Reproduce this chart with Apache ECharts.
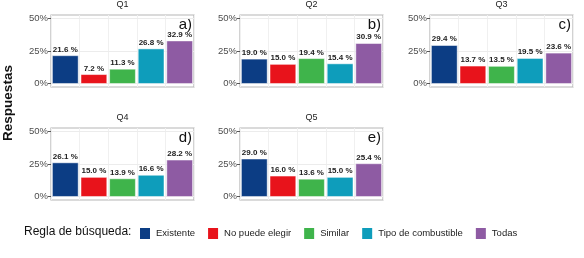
<!DOCTYPE html>
<html>
<head>
<meta charset="utf-8">
<script src="https://cdn.jsdelivr.net/npm/echarts@6/dist/echarts.min.js"></script>
<style>
  html, body { margin: 0; padding: 0; background: #fff; }
  #chart { width: 584px; height: 258px; }
</style>
</head>
<body>
<div id="chart"></div>
<script>
var reglas = ['Existente', 'No puede elegir', 'Similar', 'Tipo de combustible', 'Todas'];
var colores = ['#0c3d84', '#e8131b', '#3fb44b', '#0e9dbb', '#8e5ba3'];
var preguntas = ['Q1', 'Q2', 'Q3', 'Q4', 'Q5'];
var etiquetas = ['a)', 'b)', 'c)', 'd)', 'e)'];
var yTicks = [0, 25, 50];

var q1 = [21.6, 7.2, 11.3, 26.8, 32.9];
var q2 = [19.0, 15.0, 19.4, 15.4, 30.9];
var q3 = [29.4, 13.7, 13.5, 19.5, 23.6];
var q4 = [26.1, 15.0, 13.9, 16.6, 28.2];
var q5 = [29.0, 16.0, 13.6, 15.0, 25.4];
var valores = [q1, q2, q3, q4, q5];

// panel layout
var lefts = [51, 240, 430, 51, 240];
var tops = [15, 15, 15, 128, 128];
var W = 143, H = 72;

var chart = echarts.init(document.getElementById('chart'));

var option = {
    animation: false,
    textStyle: { fontFamily: 'Liberation Sans' },
    grid: [],
    xAxis: [],
    yAxis: [],
    series: [],
    graphic: [],
    legend: {
        left: 133,
        top: 221,
        itemWidth: 12,
        itemHeight: 13,
        itemGap: 11,
        icon: 'rect',
        data: reglas,
        textStyle: { fontSize: 9.5, color: '#222', fontFamily: 'Liberation Sans' }
    }
};

option.graphic.push({
    type: 'text', left: 24, top: 226,
    style: { text: 'Regla de búsqueda:', fontSize: 12, fill: '#111', fontFamily: 'Liberation Sans' }
});
option.graphic.push({
    type: 'text', x: 8, y: 103, rotation: Math.PI / 2,
    style: { text: 'Respuestas', fontSize: 13.5, fontWeight: 'bold', fill: '#111', fontFamily: 'Liberation Sans', align: 'center', verticalAlign: 'middle' }
});

for (var g = 0; g < 5; g++) {
    option.grid.push({
        left: lefts[g], top: tops[g], width: W, height: H,
        show: true, backgroundColor: '#fff', borderColor: '#b5b5b5', borderWidth: 1.2,
        containLabel: false
    });
    option.xAxis.push({
        type: 'category', gridIndex: g, data: reglas,
        axisLine: { show: false }, axisTick: { show: false }, axisLabel: { show: false },
        splitLine: { show: true, interval: 0, lineStyle: { color: '#f0f0f0', width: 1 } }
    });
    option.yAxis.push({
        type: 'value', gridIndex: g, min: -2.5, max: 52.5,
        axisLine: { show: false },
        axisTick: { show: true, length: 3, customValues: yTicks, lineStyle: { color: '#555' } },
        axisLabel: {
            customValues: yTicks, fontSize: 9.5, color: '#4d4d4d', margin: 3,
            formatter: function (v) { return v + '%'; }
        },
        splitLine: { show: false }
    });
    option.graphic.push({
        type: 'text', x: lefts[g] + W / 2, y: tops[g] - 10,
        style: { text: preguntas[g], fontSize: 9, fill: '#222', fontFamily: 'Liberation Sans', align: 'center', verticalAlign: 'middle' }
    });
    option.graphic.push({
        type: 'text', x: lefts[g] + W - 2, y: tops[g] + 10,
        style: { text: etiquetas[g], fontSize: 15, fill: '#111', fontFamily: 'Liberation Sans', align: 'right', verticalAlign: 'middle' }
    });
    for (var r = 0; r < reglas.length; r++) {
        var d = reglas.map(function (c, i) { return i === r ? valores[g][i] : '-'; });
        var s = {
            name: reglas[r], type: 'bar', xAxisIndex: g, yAxisIndex: g,
            stack: 'p' + g, barCategoryGap: '8%', data: d,
            itemStyle: { color: colores[r], borderColor: '#fff', borderWidth: 0.5 },
            label: {
                show: true, position: 'top', distance: 2, fontSize: 8, fontWeight: 'bold', color: '#222',
                formatter: function (p) { return p.value.toFixed(1) + ' %'; }
            }
        };
        if (r === 0) {
            s.markLine = {
                silent: true, symbol: 'none', label: { show: false },
                lineStyle: { color: '#ececec', type: 'solid', width: 1 },
                data: yTicks.map(function (t) { return { yAxis: t }; }),
                z: 0
            };
        }
        option.series.push(s);
    }
}

chart.setOption(option);
</script>
</body>
</html>
